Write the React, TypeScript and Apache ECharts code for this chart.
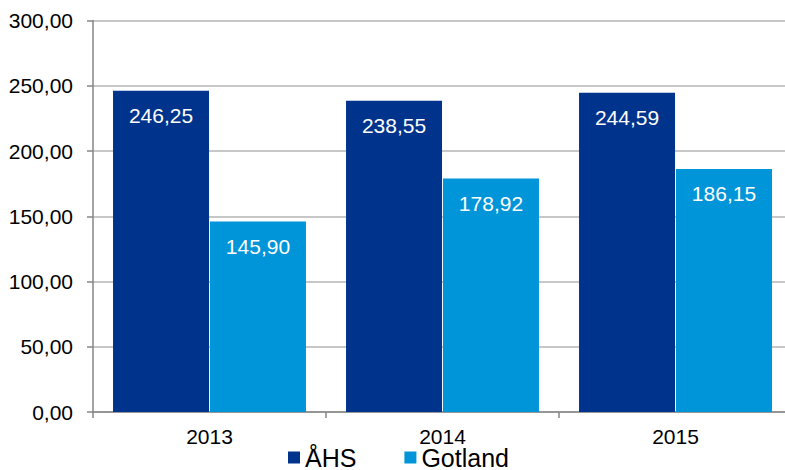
import React, { useEffect, useRef } from "react";
import * as echarts from "echarts";

const categories = ["2013", "2014", "2015"];
const ahsValues = [246.25, 238.55, 244.59];
const gotlandValues = [145.9, 178.92, 186.15];
const seriesNames = ["ÅHS", "Gotland"];

const fmt = (v: number) => v.toFixed(2).replace(".", ",");

export default function App() {
  const ref = useRef<HTMLDivElement>(null);
  useEffect(() => {
    if (!ref.current) return;
    const chart = echarts.init(ref.current, undefined, { renderer: "svg" });
    const font = "Liberation Sans, Arial, sans-serif";
    const label = {
      show: true,
      position: "insideTop" as const,
      distance: 14,
      color: "#ffffff",
      fontSize: 21,
      fontFamily: font,
      formatter: (p: any) => fmt(p.value),
    };
    chart.setOption({
      animation: false,
      backgroundColor: "#ffffff",
      grid: {
        left: 93,
        top: 20.5,
        right: -7,
        bottom: 58,
        containLabel: false,
        outerBoundsMode: "none",
      },
      legend: {
        left: 288,
        top: 445,
        padding: 0,
        itemWidth: 12,
        itemHeight: 12,
        itemGap: 48,
        icon: "rect",
        textStyle: { fontSize: 25, lineHeight: 25, fontFamily: font, color: "#000000" },
        data: seriesNames,
      },
      xAxis: {
        type: "category",
        data: categories,
        axisLine: { lineStyle: { color: "#868686", width: 1.5 } },
        axisTick: { show: true, length: 6, lineStyle: { color: "#868686", width: 1.5 } },
        axisLabel: { fontSize: 21, fontFamily: font, color: "#000000", margin: 14 },
      },
      yAxis: {
        type: "value",
        min: 0,
        max: 300,
        interval: 50,
        axisLine: { show: true, lineStyle: { color: "#868686", width: 1.5 } },
        axisTick: { show: true, length: 6, lineStyle: { color: "#868686", width: 1.5 } },
        splitLine: { lineStyle: { color: "#b4b4b4", width: 1.5 } },
        axisLabel: {
          fontSize: 21,
          fontFamily: font,
          color: "#000000",
          margin: 20,
          formatter: (v: number) => fmt(v),
        },
      },
      series: [
        {
          name: seriesNames[0],
          type: "bar",
          data: ahsValues,
          barWidth: 96,
          barGap: "1%",
          itemStyle: { color: "#00338c" },
          label,
        },
        {
          name: seriesNames[1],
          type: "bar",
          data: gotlandValues,
          barWidth: 96,
          barGap: "1%",
          itemStyle: { color: "#0094d9" },
          label,
        },
      ],
    });
    return () => chart.dispose();
  }, []);
  return (
    <div
      ref={ref}
      style={{ position: "fixed", left: 0, top: 0, width: 785, height: 470 }}
    />
  );
}
